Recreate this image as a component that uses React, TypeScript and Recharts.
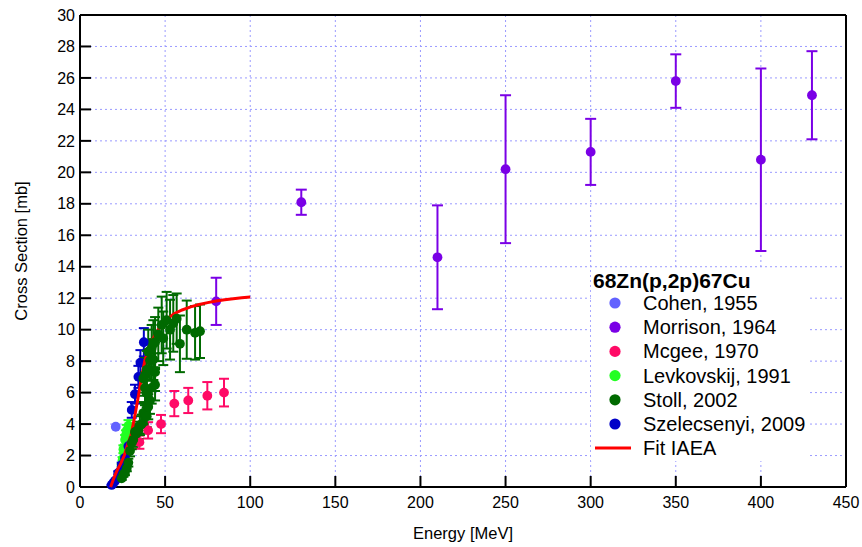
import React from "react";
import {
  ScatterChart,
  Scatter,
  XAxis,
  YAxis,
  CartesianGrid,
  ErrorBar,
  Legend,
} from "recharts";

// 68Zn(p,2p)67Cu cross sections, energy in MeV, sigma in mb

const cohenE = [21];
const cohenY = [3.83];

const morrisonE = [80, 130, 210, 250, 300, 350, 400, 430];
const morrisonY = [11.8, 18.1, 14.6, 20.2, 21.3, 25.8, 20.8, 24.9];
const morrisonErr = [1.5, 0.8, 3.3, 4.7, 2.1, 1.7, 5.8, 2.8];

const mcgeeE = [34.9, 40.0, 47.6, 55.4, 63.6, 74.8, 84.6];
const mcgeeY = [2.85, 3.6, 4.0, 5.3, 5.5, 5.8, 6.0];
const mcgeeErr = [0.42, 0.52, 0.58, 0.8, 0.8, 0.87, 0.88];

const levkovskijE = [24.5, 25.0, 25.5, 26.0, 26.5, 27.0, 27.5, 28.5];
const levkovskijY = [1.3, 1.7, 2.4, 2.2, 3.0, 3.3, 3.6, 3.9];
const levkovskijErr = [0.15, 0.2, 0.25, 0.25, 0.3, 0.3, 0.35, 0.35];

const stollE = [
  24.5, 25.5, 26.4, 27.5, 28.4, 29.4, 30.4, 31.3, 32.3, 33.3, 34.3, 35.2,
  36.2, 37.2, 38.2, 39.2, 40.1, 41.1, 39.2, 42.1, 38.2, 44.1, 37.2, 38.2,
  44.1, 39.2, 41.1, 43.1, 40.1, 42.1, 44.1, 43.1, 46.0, 48.0, 48.9, 50.9,
  52.9, 54.8, 56.8, 58.7, 62.7, 67.6, 70.5,
];
const stollY = [
  0.55, 0.8, 0.9, 1.2, 1.55, 2.3, 2.8, 3.0, 3.5, 3.4, 3.6, 3.9,
  4.0, 4.7, 4.5, 4.5, 5.1, 5.5, 5.95, 6.3, 6.3, 6.5, 6.9, 7.1,
  7.3, 7.45, 8.05, 8.1, 8.6, 8.8, 9.2, 9.1, 9.7, 10.3, 9.45, 10.6,
  10.0, 10.4, 10.7, 9.1, 10.0, 9.8, 9.9,
];
const stollErr = [
  0.1, 0.15, 0.15, 0.2, 0.25, 0.35, 0.4, 0.45, 0.5, 0.5, 0.55, 0.6,
  0.6, 0.7, 0.7, 0.7, 0.8, 0.85, 0.9, 1.0, 1.0, 1.0, 1.1, 1.1,
  1.2, 1.2, 1.3, 1.3, 1.4, 1.5, 1.6, 1.5, 1.7, 1.8, 1.7, 1.8,
  1.9, 1.8, 1.6, 1.8, 1.85, 1.7, 1.7,
];

const szelecsenyiE = [18.6, 19.6, 20.6, 22.5, 24.5, 26.4, 28.4, 30.4, 32.3, 34.3, 35.5, 37.5];
const szelecsenyiY = [0.13, 0.25, 0.4, 0.9, 1.4, 1.85, 2.6, 4.9, 5.9, 7.0, 7.9, 9.2];
const szelecsenyiErr = [0.02, 0.03, 0.05, 0.1, 0.15, 0.2, 0.3, 0.5, 0.6, 0.7, 0.8, 0.9];

const fitE = [18, 20, 22, 24, 26, 28, 30, 32, 34, 36, 38, 40, 42, 44, 46, 48, 50, 55, 60, 65, 70, 75, 80, 85, 90, 95, 100];
const fitY = [0, 0.6, 1.1, 1.5, 2.0, 2.7, 3.3, 4.4, 5.6, 6.9, 8.0, 8.7, 9.2, 9.65, 10.0, 10.3, 10.55, 11.0, 11.25, 11.45, 11.6, 11.72, 11.82, 11.9, 11.97, 12.03, 12.08];

const xTicks = [0, 50, 100, 150, 200, 250, 300, 350, 400, 450];
const yTicks = [0, 2, 4, 6, 8, 10, 12, 14, 16, 18, 20, 22, 24, 26, 28, 30];

const FONT = '"Liberation Sans", Arial, sans-serif';

const COLORS = {
  cohen: "#6262ff",
  morrison: "#7a00e6",
  mcgee: "#ff0a66",
  levkovskij: "#22ff22",
  stoll: "#006a00",
  szelecsenyi: "#0000c8",
  fit: "#ff0000",
};

const toPoints = (xs: number[], ys: number[], errs?: number[]) =>
  xs.map((x, i) => ({ x, y: ys[i], err: errs ? errs[i] : 0 }));

const cohen = toPoints(cohenE, cohenY);
const morrison = toPoints(morrisonE, morrisonY, morrisonErr);
const mcgee = toPoints(mcgeeE, mcgeeY, mcgeeErr);
const levkovskij = toPoints(levkovskijE, levkovskijY, levkovskijErr);
const stoll = toPoints(stollE, stollY, stollErr);
const szelecsenyi = toPoints(szelecsenyiE, szelecsenyiY, szelecsenyiErr);
const fit = toPoints(fitE, fitY);

const legendItems = [
  { name: "Cohen, 1955", color: COLORS.cohen },
  { name: "Morrison, 1964", color: COLORS.morrison },
  { name: "Mcgee, 1970", color: COLORS.mcgee },
  { name: "Levkovskij, 1991", color: COLORS.levkovskij },
  { name: "Stoll, 2002", color: COLORS.stoll },
  { name: "Szelecsenyi, 2009", color: COLORS.szelecsenyi },
];

const dot = (color: string) => (props: any) =>
  <circle cx={props.cx} cy={props.cy} r={4.9} fill={color} />;

const noDot = () => <g />;

function LegendBox() {
  return (
    <svg width={216} height={193} style={{ background: "#fff", display: "block" }}>
      <text x={2} y={20} fontFamily={FONT} fontSize={21} fontWeight="bold" fill="#000">
        68Zn(p,2p)67Cu
      </text>
      {legendItems.map((item, i) => (
        <g key={item.name}>
          <circle cx={24} cy={35 + i * 24.2} r={5.6} fill={item.color} />
          <text x={52} y={42 + i * 24.2} fontFamily={FONT} fontSize={20} fill="#000">
            {item.name}
          </text>
        </g>
      ))}
      <line x1={4} x2={40} y1={180} y2={180} stroke={COLORS.fit} strokeWidth={3} />
      <text x={52} y={187} fontFamily={FONT} fontSize={20} fill="#000">
        Fit IAEA
      </text>
    </svg>
  );
}

export default function App() {
  const tickStyle = { fontFamily: FONT, fontSize: 16, fill: "#000" };
  const axisLine = { stroke: "#000", strokeWidth: 2 };
  const tickLine = { stroke: "#000", strokeWidth: 2 };

  return (
    <div style={{ position: "absolute", left: 0, top: 0, width: 862, height: 547, background: "#fff" }}>
      <ScatterChart width={862} height={547} margin={{ top: 14, right: 15, bottom: 0, left: 0 }}>
        <CartesianGrid stroke="#9a9aff" strokeDasharray="2 3" />
        <XAxis
          type="number"
          dataKey="x"
          domain={[0, 450]}
          ticks={xTicks}
          height={60}
          tickSize={-11}
          tickMargin={21}
          tick={tickStyle}
          axisLine={axisLine}
          tickLine={tickLine}
          label={{
            value: "Energy [MeV]",
            position: "insideBottom",
            offset: 8,
            style: { fontFamily: FONT, fontSize: 16.5, fill: "#000" },
          }}
        />
        <XAxis
          xAxisId="top"
          orientation="top"
          type="number"
          domain={[0, 450]}
          ticks={xTicks}
          height={1}
          tick={false}
          tickLine={false}
          axisLine={axisLine}
        />
        <YAxis
          type="number"
          dataKey="y"
          domain={[0, 30]}
          ticks={yTicks}
          width={80}
          tickSize={-11}
          tickMargin={16}
          tick={tickStyle}
          axisLine={axisLine}
          tickLine={tickLine}
          label={{
            value: "Cross Section [mb]",
            angle: -90,
            position: "insideLeft",
            offset: 21,
            style: { fontFamily: FONT, fontSize: 16.5, fill: "#000", textAnchor: "middle" },
          }}
        />
        <YAxis
          yAxisId="right"
          orientation="right"
          type="number"
          domain={[0, 30]}
          ticks={yTicks}
          width={1}
          tickSize={-11}
          tick={false}
          axisLine={axisLine}
          tickLine={tickLine}
        />

        <Scatter data={cohen} shape={dot(COLORS.cohen)} isAnimationActive={false} />
        <Scatter data={morrison} shape={dot(COLORS.morrison)} isAnimationActive={false}>
          <ErrorBar dataKey="err" direction="y" width={5.5} stroke={COLORS.morrison} strokeWidth={2} />
        </Scatter>
        <Scatter data={mcgee} shape={dot(COLORS.mcgee)} isAnimationActive={false}>
          <ErrorBar dataKey="err" direction="y" width={5} stroke={COLORS.mcgee} strokeWidth={2} />
        </Scatter>
        <Scatter data={levkovskij} shape={dot(COLORS.levkovskij)} isAnimationActive={false}>
          <ErrorBar dataKey="err" direction="y" width={5} stroke={COLORS.levkovskij} strokeWidth={2} />
        </Scatter>
        <Scatter data={szelecsenyi} shape={dot(COLORS.szelecsenyi)} isAnimationActive={false}>
          <ErrorBar dataKey="err" direction="y" width={5} stroke={COLORS.szelecsenyi} strokeWidth={2} />
        </Scatter>
        <Scatter
          data={fit}
          line={{ stroke: COLORS.fit, strokeWidth: 3 }}
          lineType="joint"
          shape={noDot}
          isAnimationActive={false}
        />
        <Scatter data={stoll} shape={dot(COLORS.stoll)} isAnimationActive={false}>
          <ErrorBar dataKey="err" direction="y" width={5} stroke={COLORS.stoll} strokeWidth={2} />
        </Scatter>

        <Legend
          layout="vertical"
          align="center"
          verticalAlign="middle"
          content={() => <LegendBox />}
          wrapperStyle={{ position: "absolute", left: 591, top: 268, width: 216, height: 193 }}
        />
      </ScatterChart>
    </div>
  );
}
